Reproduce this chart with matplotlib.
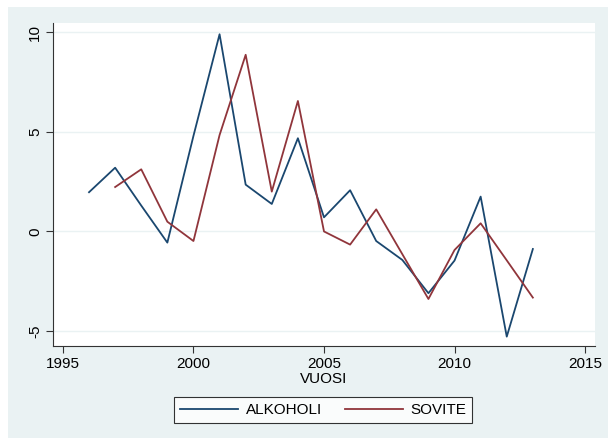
import matplotlib
matplotlib.use('Agg')
import matplotlib.pyplot as plt
from matplotlib.patches import Rectangle

plt.rcParams['font.family'] = ['Liberation Sans', 'DejaVu Sans']

# data
vuosi_alk = [1996, 1997, 1998, 1999, 2000, 2001, 2002, 2003, 2004, 2005,
             2006, 2007, 2008, 2009, 2010, 2011, 2012, 2013]
alkoholi = [1.97, 3.2, 1.3, -0.56, 4.8, 9.9, 2.35, 1.38, 4.68, 0.71,
            2.07, -0.48, -1.43, -3.1, -1.46, 1.75, -5.28, -0.88]
vuosi_sov = [1997, 1998, 1999, 2000, 2001, 2002, 2003, 2004, 2005,
             2006, 2007, 2008, 2009, 2010, 2011, 2012, 2013]
sovite = [2.23, 3.12, 0.49, -0.48, 4.84, 8.87, 2.0, 6.55, 0.0,
          -0.66, 1.11, -1.14, -3.39, -0.93, 0.41, -1.45, -3.32]
xticks = [1995, 2000, 2005, 2010, 2015]
yticks = [-5, 0, 5, 10]

W, H = 608, 438
fig = plt.figure(figsize=(W/100, H/100), dpi=100)
fig.patch.set_facecolor('white')
# stata style light blue panel
fig.patches.append(Rectangle((8/W, 0), 1, 1 - 7/H, transform=fig.transFigure,
                             facecolor='#EAF2F3', edgecolor='none', zorder=-1))

ax = fig.add_axes([53/W, 1 - 346/H, (595 - 53)/W, (346 - 22.7)/H])
ax.set_facecolor('white')

ax.plot(vuosi_alk, alkoholi, color='#1A476F', lw=1.3, label='ALKOHOLI')
ax.plot(vuosi_sov, sovite, color='#90353B', lw=1.3, label='SOVITE')

ax.set_xlim(1994.62, 2015.38)
ax.set_ylim(-5.75, 10.48)
ax.set_xticks(xticks)
ax.set_yticks(yticks)
ax.set_yticklabels([str(t) for t in yticks], rotation=90, va='center')
ax.tick_params(axis='both', direction='out', length=5, width=0.8,
               color='#333333', labelsize=11, pad=3)
ax.grid(axis='y', color='#EAF2F3', lw=1.0)
ax.set_axisbelow(True)
for s in ['top', 'right']:
    ax.spines[s].set_visible(False)
for s in ['left', 'bottom']:
    ax.spines[s].set_color('#333333')
    ax.spines[s].set_linewidth(0.8)

ax.set_xlabel('VUOSI', fontsize=11, labelpad=0.5)

leg = fig.legend(loc='center', bbox_to_anchor=(323/W, 1 - 410/H), ncol=2,
                 fontsize=11, handlelength=3.8, handletextpad=0.5,
                 columnspacing=1.5, frameon=True, fancybox=False,
                 borderpad=0.4, borderaxespad=0)
leg.get_frame().set_edgecolor('black')
leg.get_frame().set_linewidth(0.8)

fig.savefig('out.png', dpi=100, facecolor=fig.get_facecolor())
